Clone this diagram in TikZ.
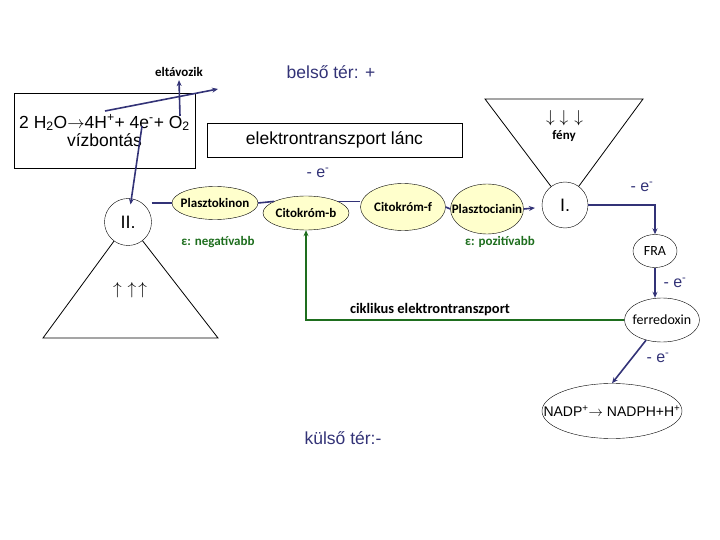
\documentclass[tikz,border=0pt]{standalone}
\usepackage{fontspec}
\setmainfont{Liberation Sans}
\newfontfamily\carlito{Carlito}
\usepackage{tikz}
\usetikzlibrary{arrows.meta,shapes}
\definecolor{lila}{RGB}{51,51,119}
\definecolor{zold}{RGB}{30,110,30}
\definecolor{halvany}{RGB}{255,255,204}
\newcommand\kozep[1]{\makebox[0pt]{#1}}
\tikzset{
  pig/.style={ellipse,draw,fill=halvany,inner sep=0pt,font=\carlito\bfseries\fontsize{13}{15}\selectfont},
  feher/.style={ellipse,draw,inner sep=0pt,font=\carlito\fontsize{14}{16}\selectfont},
  kor/.style={circle,draw,minimum size=47pt,inner sep=0pt,font=\fontsize{18}{20}\selectfont},
  doboz/.style={draw,align=center,font=\fontsize{17.5}{18}\selectfont},
  nagy/.style={font=\fontsize{17.5}{19}\selectfont},
  kis/.style={font=\carlito\bfseries\fontsize{13}{15}\selectfont},
  eps/.style={text=zold,font=\carlito\bfseries\fontsize{13}{15}\selectfont},
  nyil/.style={-{Stealth[length=6pt,width=5pt]},lila,line width=1.6pt},
  vonal/.style={lila,line width=1.6pt},
  el/.style={text=lila,font=\fontsize{16}{18}\selectfont}
}
\begin{document}
\begin{tikzpicture}[x=1pt,y=-1pt,=>stealth]
\useasboundingbox (0,0) rectangle (720,540);
\node[nagy,text=lila] (belso) at (331,72) {belső tér: +};
\node[nagy,text=lila] (kulso) at (343,438) {külső tér:-};
\node[doboz,minimum width=181pt,minimum height=75pt] (vizb) at (104.5,130.5) {2 H\textsubscript{2}O$\rightarrow$4H\textsuperscript{+}+ 4e\textsuperscript{-}+ O\textsubscript{2}\\vízbontás};
\node[doboz,minimum width=255pt,minimum height=34pt] (lanc) at (334.5,140) {elektrontranszport lánc};
\node[kis] (elt) at (179,72) {eltávozik};
\coordinate (hp) at (105,111);
\coordinate (ki) at (218,89);
\coordinate (o2) at (180,116);
\coordinate (ee) at (142,126);
\node[kor] (II) at (128,222) {\kozep{II.}};
\node[kor,minimum size=46pt] (I) at (565,205) {\kozep{I.}};
\node[pig,minimum width=86pt,minimum height=33pt] (plk) at (215,203) {\kozep{Plasztokinon}};
\node[pig,minimum width=86pt,minimum height=34pt] (cb) at (306,213) {\kozep{Citokróm-b}};
\node[pig,minimum width=85pt,minimum height=47pt] (cf) at (403,207) {\kozep{Citokróm-f}};
\node[pig,minimum width=73pt,minimum height=50pt] (pc) at (487,209) {\kozep{Plasztocianin}};
\node[feher,minimum width=44pt,minimum height=33pt] (fra) at (655,251) {\kozep{FRA}};
\node[feher,minimum width=75pt,minimum height=44pt] (fd) at (662,320) {\kozep{ferredoxin}};
\node[ellipse,draw,inner sep=0pt,minimum width=140pt,minimum height=55pt,font=\fontsize{14}{16}\selectfont] (nadp) at (612,411) {\kozep{NADP\textsuperscript{+}$\rightarrow$ NADPH+H\textsuperscript{+}}};
\coordinate (ab) at (43,338);
\coordinate (jb) at (218,338);
\coordinate (af) at (485,99);
\coordinate (jf) at (643,99);
\draw[line width=0.8pt] (II) -- (ab) -- (jb) -- (II);
\draw[line width=0.8pt] (I) -- (af) -- (jf) -- (I);
\node[font=\fontsize{16}{18}\selectfont] (fel) at (130,290) {$\uparrow\hspace{6pt}\uparrow\hspace{2pt}\uparrow$};
\node[font=\fontsize{16}{18}\selectfont] (le) at (564.5,118) {$\downarrow\hspace{5pt}\downarrow\hspace{6pt}\downarrow$};
\node[kis] (feny) at (564,136) {fény};
\draw[nyil] (hp) -- (ki);
\draw[nyil] (o2) -- (elt.south);
\draw[nyil,shorten >=-6pt] (ee) -- (II);
\draw[vonal] (II.east |- plk.west) -- (plk.west);
\draw[vonal] (plk.east) -- (cb.160);
\draw[vonal] (cb.20) -- (cb.20 -| cf.west);
\draw[vonal] (cf.east) -- (pc.west);
\draw[nyil,shorten >=7pt] (pc.east) -- (I);
\draw[nyil] (I.east) -| (fra.north);
\draw[nyil] (fra.south) -- (fra.south |- fd.north);
\draw[nyil] (fd) -- (nadp.north);
\draw[-{Stealth[length=6pt,width=5pt]},zold,line width=1.6pt] (fd.west) -| (cb.south);
\node[el] (e1) at (318,173) {- e\textsuperscript{-}};
\node[el] (e2) at (642,187) {- e\textsuperscript{-}};
\node[el] (e3) at (675,283) {- e\textsuperscript{-}};
\node[el] (e4) at (658,358) {- e\textsuperscript{-}};
\node[eps] (neg) at (218,242) {ε: negatívabb};
\node[eps] (poz) at (500,242) {ε: pozitívabb};
\node[font=\carlito\bfseries\fontsize{14.5}{16}\selectfont] (cikl) at (430,310) {ciklikus elektrontranszport};
\end{tikzpicture}
\end{document}
